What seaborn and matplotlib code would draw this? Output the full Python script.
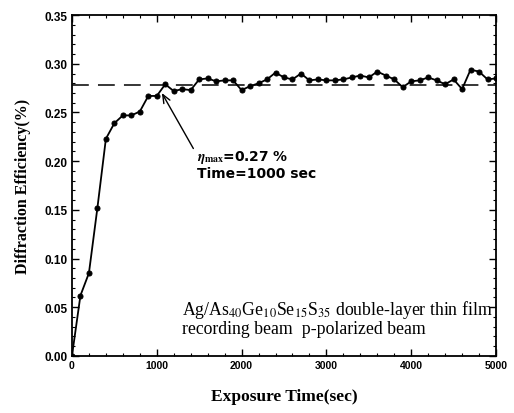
import numpy as np
import pandas as pd
import matplotlib
matplotlib.use("Agg")
import matplotlib.pyplot as plt
from matplotlib.ticker import MultipleLocator
import seaborn as sns

time_sec = [0, 100, 200, 300, 400, 500, 600, 700, 800, 900, 1000,
            1100, 1200, 1300, 1400, 1500, 1600, 1700, 1800, 1900, 2000,
            2100, 2200, 2300, 2400, 2500, 2600, 2700, 2800, 2900, 3000,
            3100, 3200, 3300, 3400, 3500, 3600, 3700, 3800, 3900, 4000,
            4100, 4200, 4300, 4400, 4500, 4600, 4700, 4800, 4900, 5000]
efficiency = [0.000, 0.062, 0.085, 0.152, 0.223, 0.239, 0.247, 0.247, 0.251, 0.267, 0.267,
              0.279, 0.272, 0.274, 0.273, 0.284, 0.285, 0.282, 0.283, 0.283, 0.273,
              0.277, 0.280, 0.284, 0.291, 0.286, 0.284, 0.290, 0.283, 0.284, 0.283,
              0.283, 0.284, 0.286, 0.288, 0.286, 0.292, 0.288, 0.284, 0.276, 0.282,
              0.283, 0.286, 0.283, 0.279, 0.284, 0.274, 0.294, 0.292, 0.284, 0.285]
saturation_level = 0.278
x_ticks = [0, 1000, 2000, 3000, 4000, 5000]
y_ticks = [0.00, 0.05, 0.10, 0.15, 0.20, 0.25, 0.30, 0.35]

df = pd.DataFrame({"t": time_sec, "eff": efficiency})

sns.set_theme(style="ticks")
plt.rcParams['font.family'] = ['Liberation Serif', 'DejaVu Serif']
plt.rcParams['mathtext.fontset'] = 'stix'
plt.rcParams['text.color'] = 'black'
plt.rcParams['axes.labelcolor'] = 'black'
plt.rcParams['xtick.color'] = 'black'
plt.rcParams['ytick.color'] = 'black'

fig = plt.figure(figsize=(5.14, 4.14), dpi=100)
ax = fig.add_axes([0.140, 0.138, 0.825, 0.823])

sns.lineplot(data=df, x="t", y="eff", ax=ax, color="black", linewidth=1.3,
             marker="o", markersize=3.6, markeredgecolor="black", markerfacecolor="black")
ax.axhline(saturation_level, color="black", linestyle=(0, (11, 6)), linewidth=1.1)

ax.set_xlim(0, 5000)
ax.set_ylim(0, 0.35)
ax.set_xticks(x_ticks)
ax.set_yticks(y_ticks)
ax.set_xticklabels([str(v) for v in x_ticks])
ax.set_yticklabels([f"{v:.2f}" for v in y_ticks])
ax.xaxis.set_minor_locator(MultipleLocator(200))
ax.yaxis.set_minor_locator(MultipleLocator(0.01))
ax.tick_params(which="both", direction="in", top=True, right=True, color="black", labelcolor="black")
ax.tick_params(which="major", length=5, width=1.0, pad=3)
ax.tick_params(which="minor", length=2.5, width=0.8)
for lab in ax.get_xticklabels():
    lab.set_fontweight("bold"); lab.set_family(["Liberation Sans", "DejaVu Sans"]); lab.set_fontsize(7.5)
for lab in ax.get_yticklabels():
    lab.set_fontweight("bold"); lab.set_family(["Liberation Sans", "DejaVu Sans"]); lab.set_fontsize(8.5)
for s in ax.spines.values():
    s.set_color("black")
    s.set_linewidth(1.3)

ax.set_xlabel("Exposure Time(sec)", fontsize=12.5, fontweight="bold", labelpad=13, color="black")
ax.set_ylabel("Diffraction Efficiency(%)", fontsize=11.5, fontweight="bold", labelpad=10, color="black")

ax.annotate("$\\boldsymbol{\\eta}_{\\mathbf{max}}$=0.27 %\nTime=1000 sec", xy=(1060, 0.270),
            xytext=(1470, 0.197),
            fontsize=10, fontweight="bold", family=["DejaVu Sans"], color="black",
            ha="left", va="center", linespacing=1.15,
            arrowprops=dict(arrowstyle="->,head_length=0.6,head_width=0.25", color="black", lw=1.0,
                            shrinkA=0, shrinkB=0, relpos=(0, 0.8)))

ax.text(1300, 0.039,
        "Ag/As$_{40}$Ge$_{10}$Se$_{15}$S$_{35}$ double-layer thin film\nrecording beam  p-polarized beam",
        fontsize=12.8, ha="left", va="center", linespacing=1.0, color="black")

fig.savefig("out.png", dpi=100)
